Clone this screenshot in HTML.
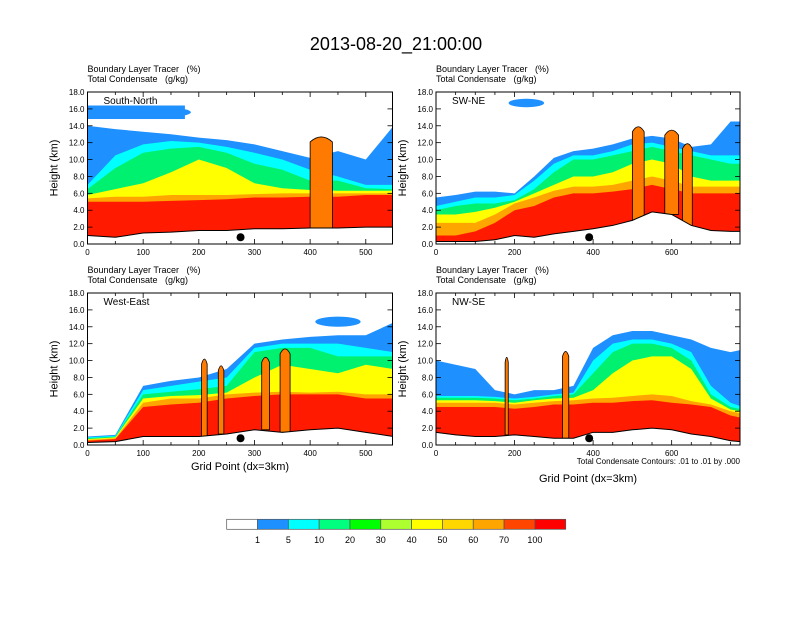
<!DOCTYPE html>
<html><head><meta charset="utf-8">
<style>
body{margin:0;background:#fff;}
svg text{font-family:"Liberation Sans",sans-serif;fill:#000;}
</style></head>
<body>
<svg id="chart" width="792" height="612" viewBox="0 0 792 612" xmlns="http://www.w3.org/2000/svg">
<rect width="792" height="612" fill="#fff"/>
<text x="396" y="50" font-size="18" text-anchor="middle">2013-08-20_21:00:00</text>
</svg>
<script>
// ---------- data ----------
const levelNames = ['blue','cyan','green','yellow','orange','red'];
const levelColors = ['#1E90FF','#00FFFF','#00F070','#FFFF00','#FFA500','#FF1A00'];
const cbLabels = ['1','5','10','20','30','40','50','60','70','100'];
const cbColors = ['#FFFFFF','#1E90FF','#00FFFF','#00FF7F','#00FF00','#ADFF2F','#FFFF00','#FFD700','#FFA500','#FF4500','#FF0000'];

const p1Grid   = [0,50,100,150,200,250,300,350,400,450,500,550];
const p1Ground = [1.0,0.8,1.3,1.4,1.6,1.6,1.8,1.8,1.9,1.9,2.0,2.0];
const p1Red    = [5.0,5.0,5.0,5.1,5.2,5.3,5.5,5.5,5.6,5.6,5.8,5.8];
const p1Orange = [5.4,5.6,5.6,5.8,5.8,5.8,5.9,6.0,6.0,6.0,6.0,6.0];
const p1Yellow = [5.8,6.5,7.2,8.5,10.0,9.0,7.2,6.6,6.4,6.3,6.3,6.3];
const p1Green  = [6.5,9.0,10.8,11.3,11.5,10.8,9.5,8.8,7.5,7.5,6.6,6.5];
const p1Cyan   = [7.0,10.5,11.8,12.2,12.0,11.5,10.8,10.0,8.8,8.0,7.0,7.0];
const p1Blue   = [14.0,13.6,13.3,13.0,12.6,12.3,11.8,11.0,10.2,11.0,10.0,14.0];
const p1TowerX = [420];
const p1TowerTop = [12.8];
const p1TowerW = [40];
const p1BandX = [0,175];
const p1BandZ = [14.8,16.4];

const p2Grid   = [0,50,100,150,200,250,300,350,400,450,500,550,600,650,700,750,800];
const p2Ground = [0.3,0.3,0.3,0.5,1.0,0.8,1.2,1.5,1.8,2.2,2.8,3.8,3.5,2.2,1.6,1.5,1.5];
const p2Red    = [1.0,1.0,1.5,2.5,4.0,4.5,5.5,6.0,6.0,6.2,6.5,7.0,6.5,6.0,6.0,6.0,6.0];
const p2Orange = [2.5,2.5,2.5,3.5,4.8,5.5,6.3,6.8,6.8,7.0,7.5,8.0,7.5,6.8,6.8,6.8,6.8];
const p2Yellow = [3.5,3.5,3.8,4.3,5.0,6.0,7.0,8.0,8.0,8.5,9.5,10.0,9.5,8.0,7.5,7.5,7.5];
const p2Green  = [4.0,4.5,4.8,4.8,5.2,6.5,8.5,10.0,10.0,10.5,11.0,11.5,11.0,10.5,10.0,9.5,9.5];
const p2Cyan   = [4.5,5.0,5.5,5.5,5.8,7.5,9.5,10.5,10.5,11.0,11.8,12.0,11.5,11.0,10.5,10.5,10.5];
const p2Blue   = [5.5,5.8,6.2,6.2,6.0,8.0,10.2,11.0,11.3,11.8,12.5,12.8,12.5,11.5,11.8,14.5,14.5];
const p2TowerX = [515,600,640];
const p2TowerTop = [14.0,13.6,12.0];
const p2TowerW = [30,35,25];
const p2BandX = [200,260];
const p2BandZ = [16.2,17.2];

const p3Grid   = [0,50,100,150,200,250,300,350,400,450,500,550];
const p3Ground = [0.3,0.4,1.0,1.0,1.0,1.3,1.8,1.5,1.8,2.0,1.5,1.0];
const p3Red    = [0.5,0.7,4.5,4.8,5.0,5.5,5.8,6.0,6.0,6.0,5.5,5.5];
const p3Orange = [0.6,0.8,5.0,5.5,5.5,6.0,6.2,6.3,6.2,6.3,6.0,6.0];
const p3Yellow = [0.7,0.9,5.5,5.8,5.9,6.2,8.0,9.5,9.0,8.5,9.5,9.0];
const p3Green  = [0.8,1.0,6.0,6.3,6.6,7.0,11.0,11.5,11.5,10.5,10.5,10.5];
const p3Cyan   = [0.9,1.1,6.5,7.0,7.5,8.0,11.5,12.0,12.0,12.0,11.5,11.0];
const p3Blue   = [1.0,1.2,7.0,7.6,8.0,9.0,12.0,12.5,12.8,13.0,13.0,14.5];
const p3TowerX = [210,240,320,355];
const p3TowerTop = [10.3,9.5,10.5,11.5];
const p3TowerW = [10,10,14,18];
const p3BandX = [420,480];
const p3BandZ = [14.0,15.2];

const p4Grid   = [0,50,100,150,200,250,300,350,400,450,500,550,600,650,700,750,800];
const p4Ground = [1.5,1.2,1.0,1.0,1.2,1.0,0.8,0.8,1.5,1.5,1.8,2.0,1.8,1.3,1.0,0.5,0.3];
const p4Red    = [4.5,4.5,4.5,4.5,4.3,4.5,4.8,4.8,5.0,5.0,5.2,5.3,5.0,4.8,4.5,3.5,3.0];
const p4Orange = [5.0,5.0,5.0,5.0,4.8,5.0,5.2,5.3,5.5,5.6,5.8,6.0,5.8,5.2,4.8,4.0,3.5];
const p4Yellow = [5.3,5.3,5.3,5.2,5.0,5.3,5.5,5.6,6.5,8.5,10.0,10.5,10.5,9.0,5.5,4.2,3.8];
const p4Green  = [5.6,5.6,5.6,5.5,5.3,5.5,5.8,6.0,8.5,11.0,12.0,12.0,11.5,10.0,6.0,4.5,4.0];
const p4Cyan   = [5.8,5.8,5.8,5.7,5.5,5.7,6.0,6.2,10.0,12.0,12.5,12.5,12.0,11.0,7.0,5.0,4.2];
const p4Blue   = [10.0,9.5,9.0,6.5,6.0,6.5,6.5,7.0,11.5,13.0,13.5,13.5,13.0,12.5,11.5,11.0,11.5];
const p4TowerX = [180,330];
const p4TowerTop = [10.5,11.2];
const p4TowerW = [8,16];
const p4BandX = [0,0];
const p4BandZ = [0,0];

// ---------- drawing ----------
const NS='http://www.w3.org/2000/svg';
const svg=document.getElementById('chart');
function mk(tag,attrs,parent){const e=document.createElementNS(NS,tag);for(const k in attrs)e.setAttribute(k,attrs[k]);(parent||svg).appendChild(e);return e;}

const panels=[
 {id:'south-north',label:'South-North',x0:87.5,y0:92,w:305,h:152,xmax:548,xt:100,grid:p1Grid,ground:p1Ground,lv:[p1Blue,p1Cyan,p1Green,p1Yellow,p1Orange,p1Red],tx:p1TowerX,tt:p1TowerTop,tw:p1TowerW,bx:p1BandX,bz:p1BandZ,dot:275},
 {id:'sw-ne',label:'SW-NE',x0:436,y0:92,w:304,h:152,xmax:774,xt:200,grid:p2Grid,ground:p2Ground,lv:[p2Blue,p2Cyan,p2Green,p2Yellow,p2Orange,p2Red],tx:p2TowerX,tt:p2TowerTop,tw:p2TowerW,bx:p2BandX,bz:p2BandZ,dot:390},
 {id:'west-east',label:'West-East',x0:87.5,y0:293,w:305,h:152,xmax:548,xt:100,grid:p3Grid,ground:p3Ground,lv:[p3Blue,p3Cyan,p3Green,p3Yellow,p3Orange,p3Red],tx:p3TowerX,tt:p3TowerTop,tw:p3TowerW,bx:p3BandX,bz:p3BandZ,dot:275},
 {id:'nw-se',label:'NW-SE',x0:436,y0:293,w:304,h:152,xmax:774,xt:200,grid:p4Grid,ground:p4Ground,lv:[p4Blue,p4Cyan,p4Green,p4Yellow,p4Orange,p4Red],tx:p4TowerX,tt:p4TowerTop,tw:p4TowerW,bx:p4BandX,bz:p4BandZ,dot:390}
];

panels.forEach((p,pi)=>{
  const sx=v=>p.x0+v/p.xmax*p.w;
  const sy=z=>p.y0+p.h-z/18*p.h;
  const g=mk('g',{});
  
  
  const cid='clip'+pi;
  const cp=mk('clipPath',{id:cid},g);
  mk('rect',{x:p.x0,y:p.y0,width:p.w,height:p.h},cp);
  const pl=mk('g',{'clip-path':'url(#'+cid+')'},g);
  // upper band
  if(p.bx[1]>p.bx[0]){
    const b=mk('ellipse',{cx:(sx(p.bx[0])+sx(p.bx[1]))/2,cy:(sy(p.bz[0])+sy(p.bz[1]))/2,rx:(sx(p.bx[1])-sx(p.bx[0]))/2+6,ry:(sy(p.bz[0])-sy(p.bz[1]))/2,fill:levelColors[0]},pl);
    
    
    if(pi===0){mk('rect',{x:p.x0,y:sy(p.bz[1]),width:sx(p.bx[1])-p.x0,height:sy(p.bz[0])-sy(p.bz[1]),fill:levelColors[0]},pl);}
  }
  // layers
  p.lv.forEach((arr,li)=>{
    let d='M'+sx(p.grid[0])+','+sy(p.ground[0]);
    p.grid.forEach((gx,i)=>{d+=' L'+sx(gx)+','+sy(arr[i]);});
    for(let i=p.grid.length-1;i>=0;i--)d+=' L'+sx(p.grid[i])+','+sy(p.ground[i]);
    const e=mk('path',{d:d+'Z',fill:levelColors[li]},pl);
    
    
  });
  // towers
  p.tx.forEach((tx,i)=>{
    const gi=Math.min(p.grid.length-1,Math.round(tx/50));
    const base=p.ground[gi];
    const hw=p.tw[i]/2;
    const xl=sx(tx-hw),xr=sx(tx+hw),yt=sy(p.tt[i]),yb=sy(base);
    const d='M'+xl+','+yb+' L'+xl+','+(yt+6)+' Q'+sx(tx)+','+(yt-4)+' '+xr+','+(yt+6)+' L'+xr+','+yb+'Z';
    const t=mk('path',{d:d,fill:'#FF7A00',stroke:'#000','stroke-width':0.8},pl);
    
    
  });
  // white below ground + ground line
  let gd='M'+sx(p.grid[0])+','+sy(p.ground[0]);
  p.grid.forEach((gx,i)=>{gd+=' L'+sx(gx)+','+sy(p.ground[i]);});
  const wd=gd+' L'+sx(p.grid[p.grid.length-1])+','+(p.y0+p.h)+' L'+sx(0)+','+(p.y0+p.h)+'Z';
  mk('path',{d:wd,fill:'#fff'},pl);
  const gl=mk('path',{d:gd,fill:'none',stroke:'#000','stroke-width':1},pl);
  
  
  // dot
  const dt=mk('circle',{cx:sx(p.dot),cy:sy(0.8),r:4,fill:'#000'},g);
  
  
  // frame
  const fr=mk('rect',{x:p.x0,y:p.y0,width:p.w,height:p.h,fill:'none',stroke:'#000','stroke-width':1},g);
  
  
  // y ticks
  for(let z=0;z<=18;z+=2){
    const y=sy(z);
    mk('line',{x1:p.x0,x2:p.x0+5,y1:y,y2:y,stroke:'#000','stroke-width':0.8},g);
    mk('line',{x1:p.x0+p.w,x2:p.x0+p.w-5,y1:y,y2:y,stroke:'#000','stroke-width':0.8},g);
    const t=mk('text',{x:p.x0-3,y:y+3,'font-size':8,'text-anchor':'end'},g);
    t.textContent=z.toFixed(1);
    
    
  }
  // x ticks
  for(let v=0;v<=p.xmax;v+=50){
    const x=sx(v);const maj=v%p.xt===0;
    const L=maj?5:3;
    mk('line',{x1:x,x2:x,y1:p.y0+p.h,y2:p.y0+p.h-L,stroke:'#000','stroke-width':0.8},g);
    mk('line',{x1:x,x2:x,y1:p.y0,y2:p.y0+L,stroke:'#000','stroke-width':0.8},g);
    if(maj){
      const t=mk('text',{x:x,y:p.y0+p.h+11,'font-size':8,'text-anchor':'middle'},g);
      t.textContent=v;
      
      
    }
  }
  // labels
  const lb=mk('text',{x:p.x0+16,y:p.y0+12,'font-size':10},g);
  lb.textContent=p.label;
  
  
  const h1=mk('text',{x:p.x0,y:p.y0-20,'font-size':9},g);
  h1.textContent='Boundary Layer Tracer   (%)';
  
  
  h1.setAttribute('xml:space','preserve');h1.style.whiteSpace='pre';
  const h2=mk('text',{x:p.x0,y:p.y0-10,'font-size':9},g);
  h2.textContent='Total Condensate   (g/kg)';
  
  
  h2.style.whiteSpace='pre';
  const yt=mk('text',{x:0,y:0,'font-size':11,'text-anchor':'middle',transform:'translate('+(p.x0-30)+','+(p.y0+p.h/2)+') rotate(-90)'},g);
  yt.textContent='Height (km)';
  
  
});

// x titles & note
const xt1=mk('text',{x:240,y:470,'font-size':11,'text-anchor':'middle'});
xt1.textContent='Grid Point (dx=3km)';


const xt2=mk('text',{x:588,y:482,'font-size':11,'text-anchor':'middle'});
xt2.textContent='Grid Point (dx=3km)';


const nt=mk('text',{x:740,y:464,'font-size':8,'text-anchor':'end'});
nt.textContent='Total Condensate Contours: .01 to .01 by .000';



// colorbar
const cbX0=226.7,cbX1=565.7,cbY=519.3,cbH=10;
const bw=(cbX1-cbX0)/cbColors.length;
cbColors.forEach((c,i)=>{
  const r=mk('rect',{x:cbX0+i*bw,y:cbY,width:bw,height:cbH,fill:c,stroke:'#555','stroke-width':0.7});
  
  
});
cbLabels.forEach((l,i)=>{
  const t=mk('text',{x:cbX0+(i+1)*bw,y:543,'font-size':9,'text-anchor':'middle'});
  t.textContent=l;
  
  
});
</script>
</body></html>
